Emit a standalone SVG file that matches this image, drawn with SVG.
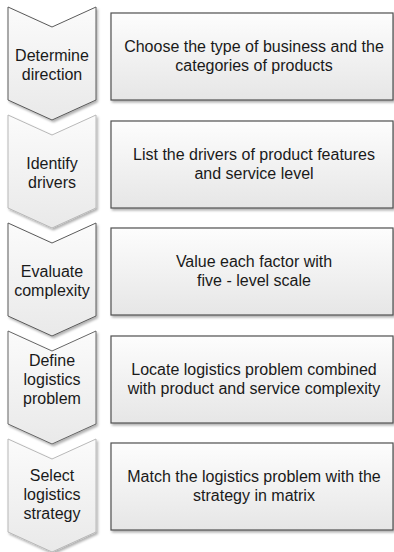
<svg xmlns="http://www.w3.org/2000/svg" width="394" height="552" viewBox="0 0 394 552">
<defs>
<linearGradient id="gc" x1="0" y1="0" x2="0" y2="1">
<stop offset="0" stop-color="#fbfbfb"/>
<stop offset="1" stop-color="#e9e9e9"/>
</linearGradient>
<linearGradient id="gb" x1="0" y1="0" x2="0" y2="1">
<stop offset="0" stop-color="#fdfdfd"/>
<stop offset="1" stop-color="#e6e6e6"/>
</linearGradient>
<filter id="sh" x="-10%" y="-10%" width="130%" height="130%">
<feDropShadow dx="1.5" dy="2" stdDeviation="1.2" flood-color="#000" flood-opacity="0.3"/>
</filter>
</defs>
<style>
.chev{fill:url(#gc);stroke-width:1;filter:url(#sh)}
.box{fill:url(#gb);stroke:#505050;stroke-width:1.2;filter:url(#sh)}
text{font-family:"Liberation Sans",Arial,sans-serif;font-size:16px;fill:#1a1a1a;text-anchor:middle}
</style>
<rect width="394" height="552" fill="#fff"/>
<g id="step1">
<path class="chev" stroke="#5a5a5a" d="M8,7 L52,27 L96,7 L96,100 L52,120 L8,100 Z"/>
<text x="52" y="61">Determine</text>
<text x="52" y="80">direction</text>
</g>
<g id="box1">
<rect class="box" x="111" y="13" width="282" height="87"/>
<text x="254" y="52">Choose the type of business and the</text>
<text x="254" y="71">categories of products</text>
</g>
<g id="step2">
<path class="chev" stroke="#b8b8b8" d="M8,115 L52,135 L96,115 L96,208 L52,228 L8,208 Z"/>
<text x="52" y="169">Identify</text>
<text x="52" y="188">drivers</text>
</g>
<g id="box2">
<rect class="box" x="111" y="121" width="282" height="87"/>
<text x="254" y="160">List the drivers of product features</text>
<text x="254" y="179">and service level</text>
</g>
<g id="step3">
<path class="chev" stroke="#5a5a5a" d="M8,223 L52,243 L96,223 L96,316 L52,336 L8,316 Z"/>
<text x="52" y="277">Evaluate</text>
<text x="52" y="296">complexity</text>
</g>
<g id="box3">
<rect class="box" x="111" y="228" width="282" height="87"/>
<text x="254" y="267">Value each factor with</text>
<text x="254" y="286">five - level scale</text>
</g>
<g id="step4">
<path class="chev" stroke="#666666" d="M8,331 L52,351 L96,331 L96,424 L52,444 L8,424 Z"/>
<text x="52" y="366">Define</text>
<text x="52" y="385">logistics</text>
<text x="52" y="404">problem</text>
</g>
<g id="box4">
<rect class="box" x="111" y="336" width="282" height="87"/>
<text x="254" y="375">Locate logistics problem combined</text>
<text x="254" y="394">with product and service complexity</text>
</g>
<g id="step5">
<path class="chev" stroke="#b8b8b8" d="M8,439 L52,459 L96,439 L96,532 L52,552 L8,532 Z"/>
<text x="52" y="481">Select</text>
<text x="52" y="500">logistics</text>
<text x="52" y="519">strategy</text>
</g>
<g id="box5">
<rect class="box" x="111" y="443" width="282" height="87"/>
<text x="254" y="482">Match the logistics problem with the</text>
<text x="254" y="501">strategy in matrix</text>
</g>
<g id="connectors"/>
</svg>
